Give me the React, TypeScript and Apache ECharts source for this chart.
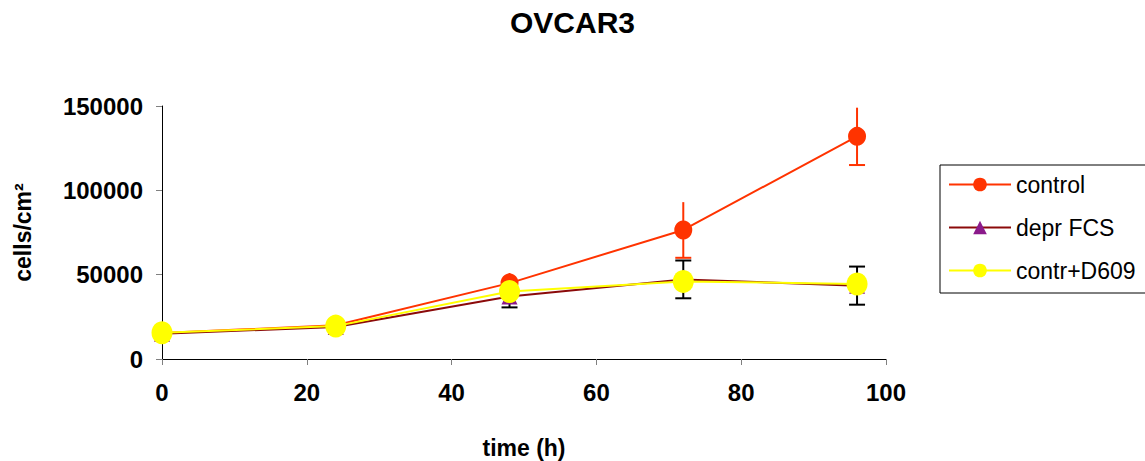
import React, { useEffect, useRef } from "react";
import * as echarts from "echarts";

const hours = [0, 24, 48, 72, 96];
const controlValues = [15400, 20000, 45000, 76500, 132000];
const controlErrors = [800, 1000, 6000, 16500, 17000];
const deprFcsValues = [15000, 19000, 37000, 47200, 43500];
const deprFcsErrors = [800, 1000, 6400, 11200, 11300];
const d609Values = [15600, 19500, 40000, 46000, 44500];
const xTicks = { min: 0, max: 100, interval: 20 };
const yTicks = { min: 0, max: 150000, interval: 50000 };

const FONT = 'Arial, "Liberation Sans", sans-serif';

function errorData(values: number[], errs: number[]) {
  return hours.map((h, i) => [h, values[i] - errs[i], values[i] + errs[i]]);
}

function makeErrorRender(color: string, topCap: boolean) {
  return (params: any, api: any) => {
    const x = api.value(0);
    const lo = api.coord([x, api.value(1)]);
    const hi = api.coord([x, api.value(2)]);
    const half = 8;
    const style = { stroke: color, lineWidth: 2 };
    const children: any[] = [
      { type: "line", shape: { x1: lo[0], y1: lo[1], x2: hi[0], y2: hi[1] }, style },
      { type: "line", shape: { x1: lo[0] - half, y1: lo[1], x2: lo[0] + half, y2: lo[1] }, style },
    ];
    if (topCap) {
      children.push({ type: "line", shape: { x1: hi[0] - half, y1: hi[1], x2: hi[0] + half, y2: hi[1] }, style });
    }
    return { type: "group", children };
  };
}

export default function App() {
  const ref = useRef<HTMLDivElement>(null);
  useEffect(() => {
    if (!ref.current) return;
    const chart = echarts.init(ref.current, null, { renderer: "svg" });
    const red = "#ff3300";
    const maroon = "#8b0a0a";
    const purple = "#8b1a8b";
    const yellow = "#ffff00";
    chart.setOption({
      animation: false,
      backgroundColor: "#ffffff",
      title: {
        text: "OVCAR3",
        left: "center",
        top: 7,
        padding: 0,
        textStyle: { fontFamily: FONT, fontSize: 30, fontWeight: "bold", color: "#000" },
      },
      grid: { left: 162, right: 259, top: 106, bottom: 102, containLabel: false, outerBoundsMode: "none" },
      legend: {
        orient: "vertical",
        left: 940,
        top: 165,
        padding: [8, 10, 11, 8],
        itemWidth: 62,
        itemHeight: 17,
        itemGap: 20,
        borderColor: "#000",
        borderWidth: 1,
        data: ["control", "depr FCS", "contr+D609"],
        textStyle: { fontFamily: FONT, fontSize: 23, color: "#000" },
      },
      xAxis: {
        type: "value",
        min: xTicks.min,
        max: xTicks.max,
        interval: xTicks.interval,
        name: "time (h)",
        nameLocation: "middle",
        nameGap: 77,
        nameTextStyle: { fontFamily: FONT, fontSize: 23, fontWeight: "bold", color: "#000" },
        axisLine: { onZero: false, lineStyle: { color: "#000", width: 1 } },
        axisTick: { show: true, inside: false, length: 6, lineStyle: { color: "#808080" } },
        axisLabel: { margin: 21, fontFamily: FONT, fontSize: 24, fontWeight: "bold", color: "#000" },
        splitLine: { show: false },
      },
      yAxis: {
        type: "value",
        min: yTicks.min,
        max: yTicks.max,
        interval: yTicks.interval,
        name: "cells/cm²",
        nameLocation: "middle",
        nameGap: 128,
        nameRotate: 90,
        nameTextStyle: { fontFamily: FONT, fontSize: 23, fontWeight: "bold", color: "#000" },
        axisLine: { show: true, onZero: false, lineStyle: { color: "#000", width: 1 } },
        axisTick: { show: true, inside: false, length: 6, lineStyle: { color: "#808080" } },
        axisLabel: {
          margin: 19,
          fontFamily: FONT,
          fontSize: 24,
          fontWeight: "bold",
          color: "#000",
          formatter: (v: number) => String(v),
        },
        splitLine: { show: false },
      },
      series: [
        {
          name: "control",
          type: "line",
          data: hours.map((h, i) => [h, controlValues[i]]),
          symbol: "circle",
          symbolSize: [18, 19],
          lineStyle: { color: red, width: 2 },
          itemStyle: { color: red },
        },
        {
          name: "control error",
          type: "custom",
          data: errorData(controlValues, controlErrors),
          encode: { x: 0, y: [1, 2] },
          renderItem: makeErrorRender(red, false),
        },
        {
          name: "depr FCS",
          type: "line",
          data: hours.map((h, i) => [h, deprFcsValues[i]]),
          symbol: "triangle",
          symbolSize: 16,
          lineStyle: { color: maroon, width: 2 },
          itemStyle: { color: purple },
        },
        {
          name: "depr FCS error",
          type: "custom",
          data: errorData(deprFcsValues, deprFcsErrors),
          encode: { x: 0, y: [1, 2] },
          renderItem: makeErrorRender("#000", true),
        },
        {
          name: "contr+D609",
          type: "line",
          data: hours.map((h, i) => [h, d609Values[i]]),
          symbol: "circle",
          symbolSize: [21, 23],
          lineStyle: { color: yellow, width: 2 },
          itemStyle: { color: yellow },
        },
      ],
    });
    return () => chart.dispose();
  }, []);
  return <div ref={ref} style={{ width: 1145, height: 461, position: "absolute", left: 0, top: 0 }} />;
}
